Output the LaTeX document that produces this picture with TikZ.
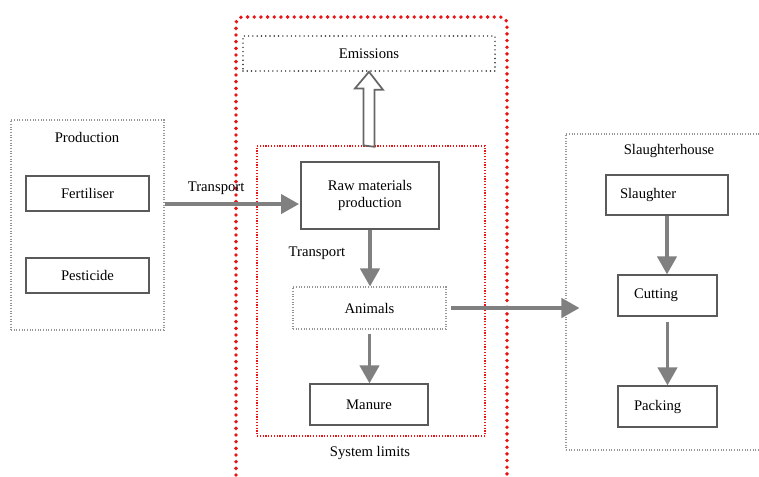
\documentclass[tikz,border=0pt]{standalone}
\usepackage{fontspec}
\setmainfont{Liberation Serif}
\usetikzlibrary{arrows.meta, calc}
\definecolor{limitred}{RGB}{235,20,20}
\definecolor{flowgrey}{RGB}{128,128,128}
\definecolor{boxgrey}{RGB}{90,90,90}
\definecolor{dotgrey}{RGB}{150,150,150}
\tikzstyle{process} = [rectangle, draw=boxgrey, line width=1pt, text centered]
\tikzstyle{stage} = [process, align=left]
\tikzstyle{group} = [rectangle, draw=dotgrey, line width=0.8pt, dash pattern=on 0.8pt off 1.2pt]
\tikzstyle{emission} = [rectangle, draw=black!85, line width=1.2pt, line cap=round, dash pattern=on 0pt off 3.2pt, text centered]
\tikzstyle{limit} = [rectangle, draw=limitred, line width=0.9pt, dash pattern=on 0.9pt off 1.2pt]
\tikzstyle{outerlimit} = [draw=limitred, line width=2.9pt, line cap=round, dash pattern=on 0pt off 5pt, rounded corners=5pt]
\tikzstyle{arrow} = [draw=flowgrey, line width=2.5pt, -{Triangle[width=14.5pt,length=13.5pt]}]
\tikzstyle{hollow} = [draw=flowgrey!80!black, line width=1.3pt, fill=white, line join=miter]

\begin{document}
\begin{tikzpicture}[x=0.75pt, y=-0.75pt, font=\fontsize{11pt}{13pt}\selectfont]
    \useasboundingbox (0,0) rectangle (759,476);

    % system boundary, open at the bottom
    \draw [outerlimit] (236,495) -- (236,17) -- (507,17) -- (507,495);

    \node (node0) [emission, minimum width=189pt, minimum height=26.25pt] at (369,53.5) {Emissions};
    \node (node1) [limit, minimum width=171pt, minimum height=217.5pt] at (371,291) {};
    \node (node2) at (370,453) {System limits};

    % hollow arrow up to the emissions
    \draw [hollow] ($(node0.south |- node1.north)+(-5.5,0)$) -- ++(0,-57) -- ++(-8.5,0)
        -- (node0.south) -- ++(14,18) -- ++(-8.5,0) -- ++(0,57) -- cycle;

    \node (node3) [group, minimum width=114.75pt, minimum height=157.5pt] at (87.5,225) {};
    \node (node4) at (87,137) {Production};
    \node (node5) [process, minimum width=92.25pt, minimum height=26.25pt] at (87.5,193.5) {Fertiliser};
    \node (node6) [process, minimum width=92.25pt, minimum height=26.25pt] at (87.5,275.5) {Pesticide};

    \node (node7) [process, minimum width=103.5pt, minimum height=50.25pt, align=center] at (370,195.5) {Raw materials\\production};
    \node (node8) [group, minimum width=114.75pt, minimum height=31.5pt] at (369.5,308) {Animals};
    \node (node9) [process, minimum width=88.5pt, minimum height=30.75pt] at (369,404.5) {Manure};

    \node (node10) [group, minimum width=147pt, minimum height=237pt] at (664,292) {};
    \node (node11) at (669,151) {Slaughterhouse};
    \node (node12) [stage, minimum height=30pt, text width=70.5pt, inner xsep=10.5pt] at (667,195) {Slaughter};
    \node (node13) [stage, minimum height=30.75pt, text width=50.25pt, inner xsep=12pt] at (667.5,295.5) {Cutting};
    \node (node14) [stage, minimum height=30.75pt, text width=50.25pt, inner xsep=12pt] at (667.5,406.5) {Packing};

    \coordinate (in0) at ([yshift=-6.4pt]node7.west);
    \draw [arrow, shorten >=1pt] (node3.east |- in0) --node[above=2.5pt, pos=0.38] (node15) {Transport} (in0);
    \draw [arrow] (node7.south) --node[left=14pt, pos=0.42] (node16) {Transport} (node7.south |- node8.north);
    \draw [arrow, shorten <=3pt] (node8.south) -- (node8.south |- node9.north);
    \draw [arrow, shorten <=3pt, shorten >=-10.5pt] (node8.east) -- (node8.east -| node10.west);
    \draw [arrow] (node12.south) -- (node12.south |- node13.north);
    \draw [arrow, shorten <=4pt] (node13.south) -- (node14.north);
\end{tikzpicture}
\end{document}
